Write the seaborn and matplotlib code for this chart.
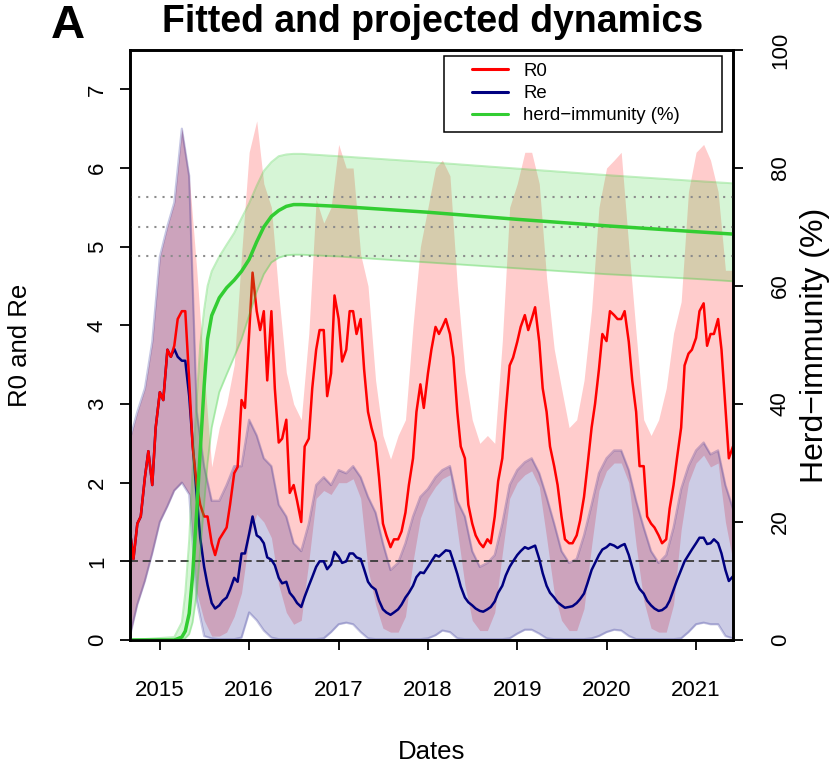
import matplotlib
matplotlib.use("Agg")
import matplotlib.pyplot as plt
from matplotlib.lines import Line2D
from matplotlib.patches import Rectangle
import pandas as pd
import seaborn as sns

# ---------------------------------------------------------------------------
# Point estimates, every half month (1st and 15th) from Sep 2014 to Jun 2021
# ---------------------------------------------------------------------------
half_month_start = "2014-09-01"

r0_mean = [
    1.38, 1.03, 1.48, 1.57, 2.07, 2.40, 1.97, 2.70, 3.15, 3.05,
    3.69, 3.60, 3.74, 4.08, 4.18, 4.18, 3.30, 2.46, 1.97, 1.72,
    1.57, 1.57, 1.23, 1.08, 1.28, 1.35, 1.43, 1.72, 2.12, 2.20,
    3.05, 2.95, 3.90, 4.67, 4.18, 3.94, 4.18, 3.30, 4.18, 3.20,
    2.51, 2.56, 2.80, 1.87, 1.97, 1.77, 1.50, 2.46, 2.56, 3.20,
    3.69, 3.94, 3.94, 3.10, 3.39, 4.38, 4.08, 3.54, 3.69, 4.18,
    4.18, 3.89, 4.08, 3.44, 2.90, 2.70, 2.51, 2.07, 1.48, 1.33,
    1.18, 1.28, 1.28, 1.38, 1.62, 1.97, 2.31, 2.90, 3.25, 2.95,
    3.39, 3.69, 3.98, 3.89, 3.98, 4.08, 3.89, 3.59, 2.90, 2.46,
    2.31, 1.72, 1.48, 1.33, 1.23, 1.18, 1.28, 1.23, 1.57, 2.02,
    2.31, 2.90, 3.49, 3.59, 3.79, 3.98, 4.13, 3.94, 4.08, 4.23,
    3.79, 3.20, 2.90, 2.46, 2.21, 1.97, 1.57, 1.28, 1.23, 1.23,
    1.33, 1.52, 1.82, 2.21, 2.70, 3.00, 3.44, 3.89, 3.80, 4.18,
    4.13, 4.08, 4.08, 4.18, 3.79, 3.30, 2.90, 2.21, 2.21, 1.57,
    1.48, 1.43, 1.33, 1.23, 1.28, 1.67, 1.97, 2.31, 2.70, 3.49,
    3.64, 3.69, 3.84, 4.18, 4.28, 3.74, 3.89, 3.89, 4.08, 3.69,
    2.95, 2.31, 2.46,
]

re_mean = [
    1.38, 1.03, 1.48, 1.57, 2.07, 2.40, 1.97, 2.70, 3.15, 3.05,
    3.69, 3.60, 3.70, 3.60, 3.55, 3.55, 3.10, 2.50, 1.82, 1.30,
    0.93, 0.70, 0.47, 0.40, 0.44, 0.50, 0.54, 0.64, 0.79, 0.74,
    1.10, 1.10, 1.35, 1.57, 1.33, 1.30, 1.23, 1.05, 1.02, 0.95,
    0.79, 0.72, 0.74, 0.60, 0.54, 0.47, 0.42, 0.55, 0.69, 0.80,
    0.93, 1.00, 1.00, 0.90, 0.96, 1.12, 1.06, 0.98, 1.00, 1.10,
    1.10, 1.05, 1.03, 0.90, 0.74, 0.68, 0.64, 0.50, 0.39, 0.35,
    0.32, 0.35, 0.39, 0.45, 0.54, 0.60, 0.69, 0.80, 0.86, 0.85,
    0.93, 1.00, 1.08, 1.06, 1.10, 1.14, 1.13, 1.00, 0.84, 0.68,
    0.54, 0.48, 0.44, 0.40, 0.37, 0.36, 0.39, 0.42, 0.49, 0.60,
    0.69, 0.82, 0.93, 1.00, 1.08, 1.13, 1.18, 1.16, 1.18, 1.20,
    1.03, 0.85, 0.69, 0.60, 0.54, 0.48, 0.44, 0.41, 0.42, 0.43,
    0.47, 0.52, 0.59, 0.72, 0.89, 0.98, 1.08, 1.15, 1.18, 1.22,
    1.20, 1.17, 1.20, 1.22, 1.08, 0.92, 0.74, 0.65, 0.59, 0.50,
    0.44, 0.40, 0.37, 0.38, 0.42, 0.50, 0.64, 0.76, 0.89, 1.00,
    1.08, 1.15, 1.23, 1.30, 1.30, 1.22, 1.23, 1.28, 1.23, 1.10,
    0.89, 0.75, 0.81,
]

# ---------------------------------------------------------------------------
# Credible intervals, monthly (1st of each month) from Sep 2014 to Jun 2021
# ---------------------------------------------------------------------------
month_start = "2014-09-01"

r0_low = [
    0.05, 0.45, 0.75, 1.10, 1.50, 1.70, 1.90, 2.00, 1.85, 0.60,
    0.25, 0.05, 0.05, 0.10, 0.30, 0.60, 1.30, 1.60, 1.50, 1.30,
    0.70, 0.35, 0.20, 0.25, 1.00, 1.80, 1.90, 1.85, 2.00, 2.00,
    2.05, 1.80, 0.90, 0.45, 0.15, 0.10, 0.10, 0.30, 1.00, 1.55,
    1.80, 1.95, 2.05, 2.10, 1.40, 0.70, 0.25, 0.12, 0.12, 0.35,
    1.10, 1.80, 2.00, 2.10, 2.15, 1.95, 1.30, 0.60, 0.25, 0.12,
    0.12, 0.40, 1.20, 1.90, 2.15, 2.25, 2.25, 2.00, 1.20, 0.50,
    0.15, 0.10, 0.10, 0.45, 1.40, 2.00, 2.25, 2.35, 2.20, 2.25,
    1.50, 1.00,
]

r0_high = [
    2.56, 2.90, 3.20, 3.79, 4.87, 5.26, 5.56, 6.50, 5.90, 4.70,
    3.40, 2.20, 2.70, 3.00, 3.50, 4.90, 6.20, 6.60, 5.80, 5.50,
    4.40, 3.40, 3.00, 2.80, 3.90, 5.60, 5.30, 5.50, 6.30, 6.00,
    6.00, 4.90, 4.50, 3.30, 2.60, 2.30, 2.60, 2.80, 4.00, 5.00,
    5.50, 6.00, 6.10, 5.90, 4.50, 3.40, 2.80, 2.50, 2.60, 2.50,
    3.80, 5.50, 5.80, 6.20, 6.20, 5.80, 4.60, 3.70, 3.20, 2.70,
    2.80, 3.30, 4.20, 5.50, 6.00, 6.10, 6.20, 5.00, 3.90, 2.80,
    2.60, 2.80, 3.20, 3.90, 4.30, 5.70, 6.20, 6.30, 6.10, 5.70,
    4.70, 4.70,
]

re_low = [
    0.05, 0.45, 0.75, 1.10, 1.50, 1.70, 1.90, 2.00, 1.85, 0.50,
    0.05, 0.02, 0.01, 0.01, 0.01, 0.03, 0.35, 0.25, 0.12, 0.03,
    0.01, 0.01, 0.01, 0.01, 0.01, 0.01, 0.02, 0.10, 0.20, 0.22,
    0.20, 0.10, 0.02, 0.01, 0.01, 0.01, 0.01, 0.01, 0.01, 0.01,
    0.02, 0.06, 0.12, 0.10, 0.02, 0.01, 0.01, 0.01, 0.01, 0.01,
    0.01, 0.02, 0.08, 0.13, 0.13, 0.08, 0.02, 0.01, 0.01, 0.01,
    0.01, 0.01, 0.02, 0.05, 0.10, 0.13, 0.12, 0.05, 0.01, 0.01,
    0.01, 0.01, 0.01, 0.01, 0.02, 0.10, 0.20, 0.22, 0.20, 0.20,
    0.05, 0.02,
]

re_high = [
    2.56, 2.90, 3.20, 3.79, 4.87, 5.26, 5.56, 6.50, 5.90, 2.90,
    2.21, 1.77, 1.77, 1.97, 2.21, 2.21, 2.80, 2.60, 2.31, 2.21,
    1.72, 1.57, 1.23, 1.13, 1.48, 1.97, 2.07, 1.97, 2.16, 2.12,
    2.21, 2.07, 1.82, 1.62, 1.23, 0.89, 0.98, 1.23, 1.57, 1.82,
    1.92, 2.07, 2.16, 2.21, 1.77, 1.57, 1.13, 0.93, 0.98, 1.08,
    1.48, 1.97, 2.16, 2.26, 2.31, 2.12, 1.82, 1.48, 1.13, 0.98,
    1.03, 1.33, 1.72, 2.12, 2.31, 2.41, 2.41, 2.16, 1.77, 1.43,
    1.13, 0.98, 1.08, 1.43, 1.92, 2.21, 2.41, 2.51, 2.36, 2.41,
    1.97, 1.67,
]

# ---------------------------------------------------------------------------
# Herd immunity (%) with its interval
# ---------------------------------------------------------------------------
herd_dates = [
    "2014-09-01", "2015-03-01", "2015-04-01", "2015-04-15", "2015-05-01",
    "2015-05-15", "2015-06-01", "2015-06-15", "2015-07-01", "2015-07-15",
    "2015-08-01", "2015-09-01", "2015-10-01", "2015-11-01", "2015-12-01",
    "2016-01-01", "2016-02-01", "2016-03-01", "2016-04-01", "2016-05-01",
    "2016-06-01", "2016-07-01", "2016-08-01", "2017-01-01", "2018-01-01",
    "2019-01-01", "2020-01-01", "2021-01-01", "2021-06-01",
]
herd_mean = [
    0.0, 0.0, 0.5, 1.5, 4.5, 11.0, 22.0, 32.0, 43.0, 51.0,
    55.0, 58.0, 59.7, 61.0, 62.5, 64.5, 67.5, 70.0, 71.8, 72.8,
    73.5, 73.8, 73.8, 73.5, 72.5, 71.3, 70.2, 69.2, 68.8,
]
herd_low = [
    0.0, 0.0, 0.0, 0.3, 1.0, 3.0, 8.0, 15.0, 23.0, 30.0,
    36.0, 42.0, 45.0, 48.0, 51.0, 55.0, 59.0, 62.0, 64.0, 64.8,
    65.2, 65.3, 65.3, 65.0, 64.0, 63.0, 62.0, 61.2, 60.8,
]
herd_high = [
    0.0, 0.5, 3.0, 8.0, 17.0, 29.0, 41.0, 50.0, 56.0, 60.0,
    62.5, 65.0, 67.0, 69.0, 71.5, 74.0, 77.0, 79.5, 81.0, 82.0,
    82.3, 82.4, 82.4, 82.0, 81.0, 79.9, 78.8, 77.8, 77.4,
]
herd_thresholds = [65, 70, 75]

years = [2015, 2016, 2017, 2018, 2019, 2020, 2021]
r_ticks = [0, 1, 2, 3, 4, 5, 6, 7]
herd_ticks = [0, 20, 40, 60, 80, 100]
legend_labels = ["R0", "Re", "herd\u2212immunity (%)"]

# ---------------------------------------------------------------------------
sns.set_theme(style="ticks")
plt.rcParams.update({
    "font.family": ["Liberation Sans", "DejaVu Sans"],
    "axes.edgecolor": "black",
    "axes.linewidth": 1.9,
    "text.color": "black",
    "xtick.color": "black",
    "ytick.color": "black",
    "axes.facecolor": "white",
})

fig = plt.figure(figsize=(8.32, 7.70), dpi=100)
ax = fig.add_axes([130 / 832, 130 / 770, 603 / 832, 590 / 770])

half_dates = pd.date_range(half_month_start, periods=len(r0_mean), freq="SMS")
month_dates = pd.date_range(month_start, periods=len(r0_high), freq="MS")
herd_t = pd.to_datetime(herd_dates)

# reproduction numbers
ax.fill_between(month_dates, r0_low, r0_high, color="red", alpha=0.2, lw=0)
ax.fill_between(month_dates, re_low, re_high, color="navy", alpha=0.2, lw=0)
for edge in (re_low, re_high):
    sns.lineplot(x=month_dates, y=edge, ax=ax, color="navy", alpha=0.22, lw=1.6)
ax.axhline(1, color="#3a3a3a", lw=1.3, dashes=(4.4, 2.6))
sns.lineplot(x=half_dates, y=re_mean, ax=ax, color="navy", lw=1.8)
sns.lineplot(x=half_dates, y=r0_mean, ax=ax, color="red", lw=1.8)

# herd immunity on the secondary axis
ax2 = ax.twinx()
for lev in herd_thresholds:
    ax2.axhline(lev, color="#8c8c8c", lw=1.5, dashes=(1, 2.9))
ax2.fill_between(herd_t, herd_low, herd_high, color="limegreen", alpha=0.2, lw=0)
for edge in (herd_low, herd_high):
    sns.lineplot(x=herd_t, y=edge, ax=ax2, color="limegreen", alpha=0.3, lw=1.4)
sns.lineplot(x=herd_t, y=herd_mean, ax=ax2, color="limegreen", lw=2.5)

# limits and ticks
ax.set_xlim(month_dates[0], month_dates[-1])
ax.set_ylim(0, 7.5)
ax2.set_ylim(0, 100)

ax.set_xticks(pd.to_datetime([f"{y}-01-01" for y in years]),
              labels=[str(y) for y in years])
ax.set_yticks(r_ticks, labels=[str(v) for v in r_ticks], rotation=90, va="center")
ax2.set_yticks(herd_ticks, labels=[str(v) for v in herd_ticks], rotation=90, va="center")

ax.tick_params(axis="both", direction="out", length=7.5, width=1.3, labelsize=16)
ax.tick_params(axis="x", pad=21)
ax.tick_params(axis="y", pad=8.5)
ax2.tick_params(axis="y", direction="out", length=7.5, width=1.3, labelsize=16, pad=19)
ax.set_xlabel("")
ax.set_ylabel("")
ax2.set_ylabel("")
for a in (ax, ax2):
    for s in a.spines.values():
        s.set_linewidth(1.9)
        s.set_color("black")

# legend with a plain rectangular frame
handles = [Line2D([], [], color=c, lw=2.2) for c in ("red", "navy", "limegreen")]
ax2.add_patch(Rectangle((0.5207, 0.8615), 0.4606, 0.1283, transform=ax2.transAxes,
                        facecolor="white", edgecolor="black", lw=1.1, zorder=4.5))
leg = ax2.legend(handles, legend_labels, loc="upper left",
                 bbox_to_anchor=(0.5667, 0.978), frameon=False, fontsize=13.4,
                 handlelength=1.97, handletextpad=0.8, labelspacing=0.27,
                 borderpad=0, borderaxespad=0)
leg.set_zorder(6)

# titles and axis labels
fig.text(68 / 832, 1 - 38 / 770, "A", fontsize=34, fontweight="bold",
         ha="center", va="baseline")
fig.text(433 / 832, 1 - 32 / 770, "Fitted and projected dynamics", fontsize=27,
         fontweight="bold", ha="center", va="baseline")
fig.text(431.5 / 832, 1 - 752 / 770, "Dates", fontsize=18.5, ha="center", va="center")
fig.text(20 / 832, 1 - 345 / 770, "R0 and Re", fontsize=18.5, rotation=90,
         ha="center", va="center")
fig.text(815 / 832, 1 - 345 / 770, "Herd\u2212immunity (%)", fontsize=23,
         rotation=90, ha="center", va="center")

fig.savefig("out.png", dpi=100)
